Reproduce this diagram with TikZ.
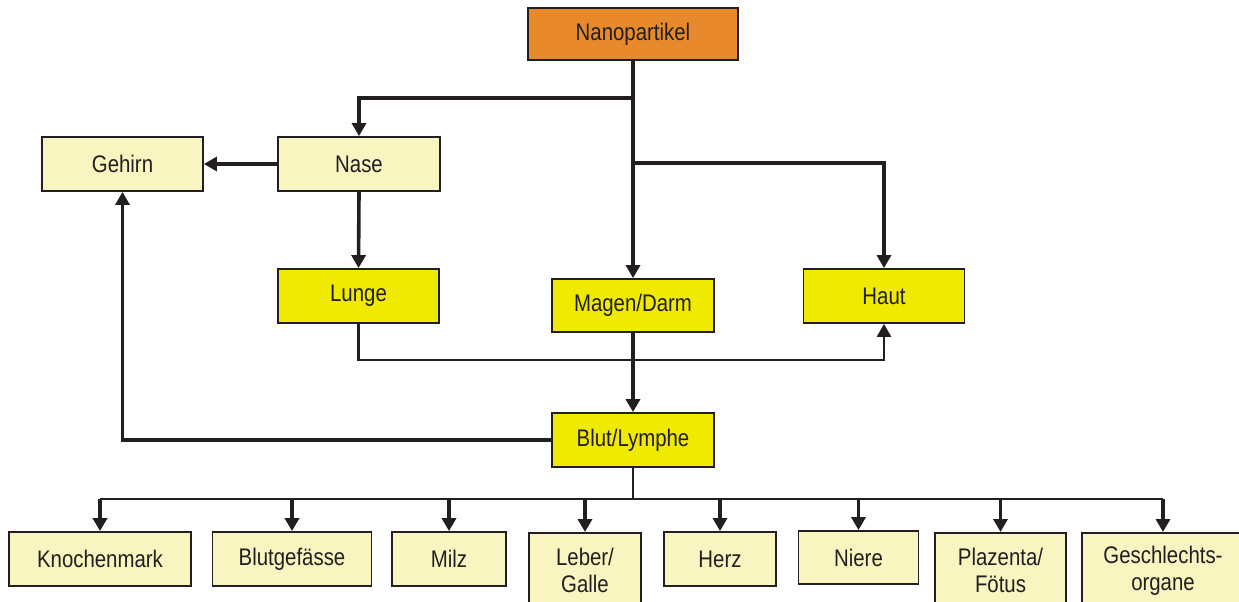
\documentclass[tikz,border=0pt]{standalone}
\usepackage{fontspec}
\setmainfont{Liberation Sans}[FakeStretch=0.85]
\usetikzlibrary{arrows.meta}
\definecolor{ink}{HTML}{231F20}
\definecolor{orangebox}{HTML}{E88A2C}
\definecolor{paleyellow}{HTML}{F8F5C1}
\definecolor{brightyellow}{HTML}{F0E900}
\tikzset{
  box/.style={draw=ink, line width=1.8pt, text=ink, inner sep=0pt, align=center,
    font=\fontsize{24}{27}\selectfont},
  orangenode/.style={box, fill=orangebox},
  palenode/.style={box, fill=paleyellow},
  yellownode/.style={box, fill=brightyellow},
  conn/.style={draw=ink, line width=3.6pt},
  arr/.style={conn, -{Triangle[width=14pt,length=13pt]}},
  thickarr/.style={draw=ink, line width=4.3pt, -{Triangle[width=14pt,length=13pt]}},
  thinconn/.style={draw=ink, line width=2.6pt},
  thinarr/.style={thinconn, -{Triangle[width=14pt,length=13pt]}},
}
\begin{document}
\begin{tikzpicture}[x=1pt, y=-1pt]
\useasboundingbox (0,0) rectangle (1239,602);
% top part
\node[orangenode, minimum width=210pt, minimum height=52pt] (nano) at (633,34) {Nanopartikel};
\node[palenode, minimum width=162pt, minimum height=54pt] (nase) at (359,164) {Nase};
\node[palenode, minimum width=161pt, minimum height=54pt] (gehirn) at (122.5,164) {Gehirn};
\node[yellownode, minimum width=161pt, minimum height=54pt] (lunge) at (358.5,296) {Lunge};
\node[yellownode, minimum width=162pt, minimum height=53pt] (magen) at (633,305.5) {Magen/Darm};
\node[yellownode, minimum width=161pt, minimum height=54pt] (haut) at (884,296) {Haut};
\node[yellownode, minimum width=162pt, minimum height=54pt] (blut) at (633,440) {Blut/Lymphe};
% bottom row
\node[palenode, minimum width=182pt, minimum height=54pt] (knochen) at (100,559) {Knochenmark};
\node[palenode, minimum width=159pt, minimum height=54pt] (blutg) at (292,559) {Blutgefässe};
\node[palenode, minimum width=114pt, minimum height=54pt] (milz) at (449,559) {Milz};
\node[palenode, minimum width=112pt, minimum height=76pt, anchor=north] (leber) at (585,532) {Leber/\\Galle};
\node[palenode, minimum width=112pt, minimum height=54pt] (herz) at (720,559) {Herz};
\node[palenode, minimum width=120pt, minimum height=53pt] (niere) at (858.5,557.5) {Niere};
\node[palenode, minimum width=131pt, minimum height=76pt, anchor=north] (plazenta) at (1000.5,532) {Plazenta/\\Fötus};
\node[palenode, minimum width=162pt, minimum height=76pt, anchor=north] (geschl) at (1163,532) {Geschlechts-\\organe};
% junction coordinates
\coordinate (j1) at (633,98);
\coordinate (j2) at (633,163);
\coordinate (j3) at (884,360);
\coordinate (bus) at (633,499);
% connectors
\draw[arr] (nano.south) -- (magen.north);
\draw[arr] (j1) -| (nase.north);
\draw[arr] (j2) -| (haut.north);
\draw[thickarr] (nase.west) -- (gehirn.east);
\draw[arr] (nase.south) -- (lunge.north);
\draw[thinarr] (lunge.south) |- (j3) -- (haut.south);
\draw[arr] (magen.south) -- (blut.north);
\draw[arr] (blut.west) -| (gehirn.south);
\draw[thinconn] (blut.south) -- (bus);
\draw[thinconn] (knochen.north |- bus) -- (geschl.north |- bus);
\foreach \n in {knochen,blutg,milz,leber,herz,niere,plazenta,geschl}
  \draw[arr] (\n.north |- bus) -- (\n.north);
\end{tikzpicture}
\end{document}
